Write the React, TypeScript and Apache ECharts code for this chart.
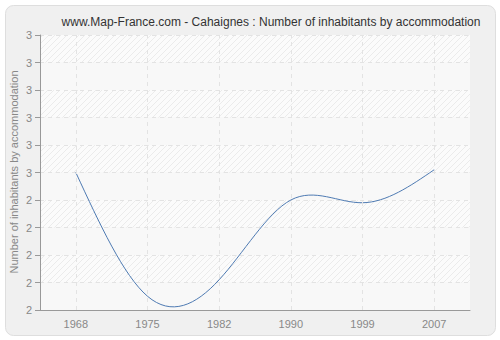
import React, { useEffect, useRef } from "react";
import * as echarts from "echarts";

const years = ["1968", "1975", "1982", "1990", "1999", "2007"];
const values = [2.5, 2.05, 2.11, 2.4, 2.39, 2.51];
const titleText = "www.Map-France.com - Cahaignes : Number of inhabitants by accommodation";
const yName = "Number of inhabitants by accommodation";

function makeHatch(): HTMLCanvasElement {
  const c = document.createElement("canvas");
  c.width = 6;
  c.height = 6;
  const ctx = c.getContext("2d")!;
  ctx.fillStyle = "#fbfbfb";
  ctx.fillRect(0, 0, 6, 6);
  ctx.strokeStyle = "#ebebeb";
  ctx.lineWidth = 1;
  ctx.beginPath();
  ctx.moveTo(-1, 7);
  ctx.lineTo(7, -1);
  ctx.moveTo(-4, 4);
  ctx.lineTo(4, -4);
  ctx.moveTo(2, 10);
  ctx.lineTo(10, 2);
  ctx.stroke();
  return c;
}

// natural cubic spline tangents (pixel space, uniform spacing)
function splineSlopes(ys: number[], h: number): number[] {
  const n = ys.length - 1;
  const M = new Array(n + 1).fill(0);
  if (n >= 2) {
    const a: number[] = [], b: number[] = [], c: number[] = [], d: number[] = [];
    for (let i = 1; i < n; i++) {
      a.push(1);
      b.push(4);
      c.push(1);
      d.push((6 * (ys[i + 1] - 2 * ys[i] + ys[i - 1])) / (h * h));
    }
    const m = d.length;
    for (let i = 1; i < m; i++) {
      const w = a[i] / b[i - 1];
      b[i] -= w * c[i - 1];
      d[i] -= w * d[i - 1];
    }
    const sol = new Array(m).fill(0);
    sol[m - 1] = d[m - 1] / b[m - 1];
    for (let i = m - 2; i >= 0; i--) sol[i] = (d[i] - c[i] * sol[i + 1]) / b[i];
    for (let i = 0; i < m; i++) M[i + 1] = sol[i];
  }
  const s: number[] = [];
  for (let i = 0; i < n; i++) {
    s.push((ys[i + 1] - ys[i]) / h - (h * (2 * M[i] + M[i + 1])) / 6);
  }
  s.push((ys[n] - ys[n - 1]) / h + (h * (M[n - 1] + 2 * M[n])) / 6);
  return s;
}

export default function App() {
  const ref = useRef<HTMLDivElement>(null);
  useEffect(() => {
    if (!ref.current) return;
    const chart = echarts.init(ref.current, undefined, { renderer: "svg" });
    const hatch = makeHatch();
    const gridLine = { color: "#e3e3e3", type: [4, 4] as number[], width: 1 };
    chart.setOption({
      animation: false,
      backgroundColor: "#ffffff",
      graphic: [
        {
          type: "rect",
          left: 5,
          top: 5,
          shape: { width: 490, height: 330, r: 8 },
          style: { fill: "#f0f0f0", stroke: "#dedede", lineWidth: 1 },
          z: -10,
          silent: true,
        },
        {
          type: "text",
          x: 14,
          y: 172,
          rotation: Math.PI / 2,
          silent: true,
          style: {
            text: yName,
            fill: "#888",
            fontFamily: "Liberation Sans",
            fontSize: 11,
            align: "center",
            verticalAlign: "middle",
          },
        },
      ],
      title: {
        text: titleText,
        left: 266,
        textAlign: "center",
        top: 11,
        textStyle: { fontFamily: "Liberation Sans", fontSize: 12, fontWeight: "normal", color: "#333" },
      },
      grid: { left: 40, right: 30, top: 35, bottom: 30, containLabel: false, outerBoundsMode: "none" },
      xAxis: {
        type: "category",
        data: years,
        boundaryGap: true,
        axisLine: { lineStyle: { color: "#999" } },
        axisTick: { alignWithLabel: true, length: 5, lineStyle: { color: "#999" } },
        axisLabel: { color: "#888", fontFamily: "Liberation Sans", fontSize: 11, margin: 8 },
        splitLine: { show: false },
      },
      yAxis: {
        type: "value",
        min: 2,
        max: 3,
        interval: 0.1,
        axisLine: { show: true, lineStyle: { color: "#999" } },
        axisTick: { show: true, length: 5, lineStyle: { color: "#999" } },
        axisLabel: {
          color: "#888",
          fontFamily: "Liberation Sans",
          fontSize: 11,
          margin: 8,
          formatter: (v: number) => String(Math.round(v)),
        },
        splitLine: { show: true, lineStyle: gridLine },
        splitArea: {
          show: true,
          areaStyle: { color: ["#f8f8f8", { image: hatch, repeat: "repeat" }] },
        },
      },
      series: [
        {
          type: "line",
          data: values,
          symbol: "none",
          lineStyle: { opacity: 0 },
          silent: true,
          z: 1,
          markLine: {
            silent: true,
            symbol: "none",
            label: { show: false },
            lineStyle: gridLine,
            data: years.map((y) => ({ xAxis: y })),
          },
        },
        {
          type: "custom",
          z: 3,
          data: values.map((v, i) => [i, v]),
          encode: { x: 0, y: 1 },
          renderItem: (params: any, api: any) => {
            const i = params.dataIndex;
            if (i >= values.length - 1) return null;
            const pts = values.map((v, k) => api.coord([k, v]));
            const h = pts[1][0] - pts[0][0];
            const sl = splineSlopes(pts.map((p: number[]) => p[1]), h);
            const p0 = pts[i];
            const p1 = pts[i + 1];
            return {
              type: "bezierCurve",
              shape: {
                x1: p0[0],
                y1: p0[1],
                cpx1: p0[0] + h / 3,
                cpy1: p0[1] + (sl[i] * h) / 3,
                cpx2: p1[0] - h / 3,
                cpy2: p1[1] - (sl[i + 1] * h) / 3,
                x2: p1[0],
                y2: p1[1],
              },
              style: { stroke: "#4f7bb3", lineWidth: 1, fill: "none" },
            };
          },
        },
      ],
    });
    return () => chart.dispose();
  }, []);
  return (
    <div
      ref={ref}
      style={{ position: "fixed", left: 0, top: 0, width: 500, height: 340 }}
    />
  );
}
